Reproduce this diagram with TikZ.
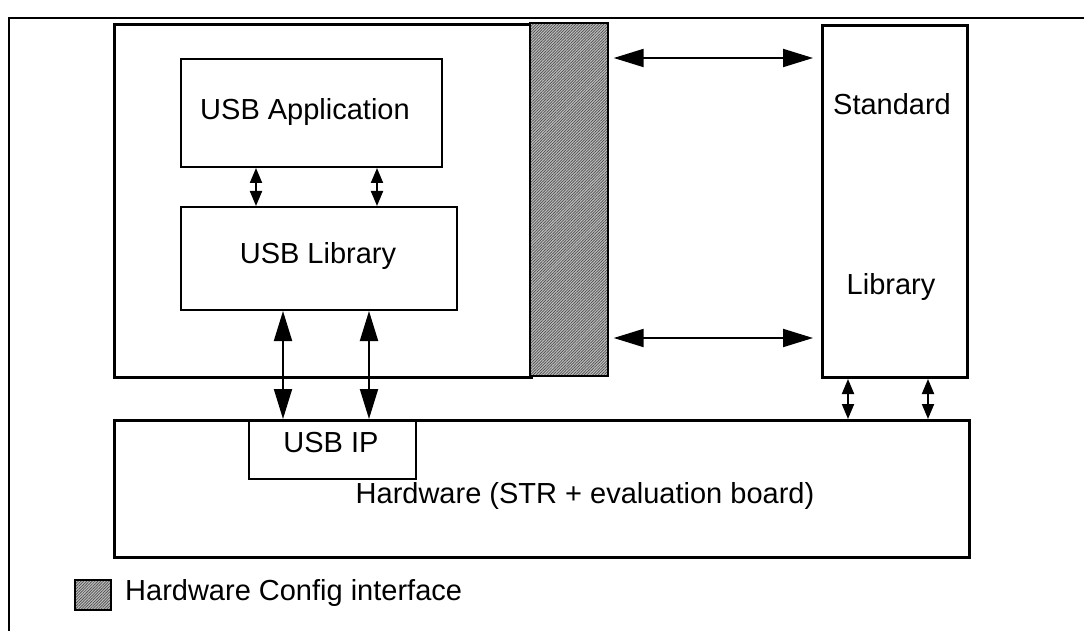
\documentclass[tikz,border=0pt]{standalone}
\usepackage{fontspec}
\setmainfont{Liberation Sans}
\usetikzlibrary{arrows.meta,patterns.meta}
\begin{document}
\begin{tikzpicture}[x=1pt,y=-1pt,
  thickbox/.style={draw,line width=3pt,inner sep=0pt,anchor=north west},
  thinbox/.style={draw,line width=2pt,inner sep=0pt,anchor=north west},
  lbl/.style={inner sep=0pt,font=\fontsize{29}{34}\selectfont},
  hatch/.style={draw,line width=2pt,preaction={fill=gray!50},
    pattern={Lines[angle=45,distance=2pt,line width=0.7pt]},pattern color=black!70},
  bigarr/.style={line width=2pt,{Triangle[length=30pt,width=18pt]}-{Triangle[length=30pt,width=18pt]}},
  smallarr/.style={line width=2pt,{Triangle[length=15pt,width=12pt]}-{Triangle[length=15pt,width=12pt]}}]
\useasboundingbox (0,0) rectangle (1084,631);
\clip (0,0) rectangle (1084,631);
% outer frame
\draw[line width=2.5pt] (9,18) rectangle (1120,660);
% main software box and hatched interface
\node[thickbox,minimum width=417pt,minimum height=353pt] (sw) at (113,23) {};
\node[hatch,anchor=north west,minimum width=78pt,minimum height=353pt,inner sep=0pt] (hci) at (530,23) {};
% inner boxes
\node[thinbox,minimum width=261pt,minimum height=108pt] (app) at (180,58) {};
\node[lbl] at (305,112) {USB Application};
\node[thinbox,minimum width=276pt,minimum height=103pt] (lib) at (180,206) {};
\node[lbl] at (318,256) {USB Library};
% standard library
\node[thickbox,minimum width=145pt,minimum height=352pt] (std) at (821,24) {};
\node[lbl] at (892,104) {Standard};
\node[lbl] at (891,287) {Library};
% hardware
\node[thickbox,minimum width=855pt,minimum height=137pt] (hw) at (113,419) {};
\node[thinbox,minimum width=167pt,minimum height=59pt] (ip) at (248,419) {};
\node[lbl] at (331,443) {USB IP};
\node[lbl] at (585,496) {Hardware (STR + evaluation board)};
% legend
\node[hatch,anchor=north west,minimum width=36pt,minimum height=30pt,inner sep=0pt] (leg) at (74,579) {};
\node[lbl,anchor=west] at (125,593) {Hardware Config interface};
% connector helper coordinates
\coordinate (xa) at (256,0);
\coordinate (xb) at (377,0);
\coordinate (xc) at (283,0);
\coordinate (xd) at (369,0);
\coordinate (xe) at (848,0);
\coordinate (xf) at (928,0);
\coordinate (ya) at (0,58);
\coordinate (yb) at (0,338);
% arrows
\draw[smallarr] (app.south -| xa) -- (lib.north -| xa);
\draw[smallarr] (app.south -| xb) -- (lib.north -| xb);
\draw[bigarr] (lib.south -| xc) -- (hw.north -| xc);
\draw[bigarr] (lib.south -| xd) -- (hw.north -| xd);
\draw[smallarr] (std.south -| xe) -- (hw.north -| xe);
\draw[smallarr] (std.south -| xf) -- (hw.north -| xf);
\draw[bigarr] ([xshift=5pt]hci.east |- ya) -- ([xshift=-8pt]std.west |- ya);
\draw[bigarr] ([xshift=5pt]hci.east |- yb) -- ([xshift=-8pt]std.west |- yb);
\end{tikzpicture}
\end{document}
